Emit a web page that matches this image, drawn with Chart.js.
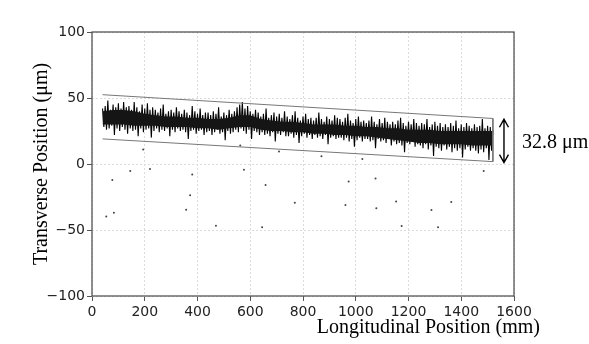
<!DOCTYPE html>
<html>
<head>
<meta charset="utf-8">
<script src="https://cdn.jsdelivr.net/npm/chart.js@4.4.1/dist/chart.umd.min.js"></script>
<style>
  html, body { margin: 0; padding: 0; background: #fff; }
  #wrap { width: 589px; height: 344px; }
</style>
</head>
<body>
<div id="wrap"><canvas id="chart"></canvas></div>
<script>
// Measured band: samples every 5 mm starting at 40 mm (crest / trough pairs)
const bandStart = 40;
const bandStep = 5;
const bandY = [
  42, 28, 44, 26, 48, 27, 41, 29, 45, 22, 43, 27, 46, 25, 42, 28, 47, 26, 43, 23,
  44, 27, 41, 25, 47, 26, 43, 21, 40, 27, 45, 24, 42, 26, 46, 27, 41, 20, 43, 25,
  41, 27, 39, 24, 42, 26, 45, 25, 38, 27, 40, 21, 41, 26, 39, 24, 43, 27, 40, 25,
  38, 26, 41, 24, 39, 19, 37, 25, 44, 26, 40, 23, 38, 25, 42, 26, 37, 22, 39, 24,
  39, 25, 37, 22, 40, 24, 38, 26, 43, 23, 36, 24, 39, 18, 37, 25, 41, 23, 38, 24,
  40, 26, 43, 24, 45, 27, 47, 25, 42, 23, 44, 26, 40, 19, 38, 25, 41, 24, 39, 22,
  36, 24, 38, 22, 42, 23, 35, 21, 37, 24, 39, 17, 36, 23, 38, 22, 35, 24, 40, 21,
  36, 21, 34, 23, 37, 20, 40, 22, 35, 16, 33, 21, 36, 23, 38, 20, 34, 22, 35, 19,
  33, 22, 35, 20, 39, 21, 34, 19, 32, 22, 36, 15, 34, 20, 33, 21, 37, 19, 35, 20,
  34, 20, 32, 18, 35, 20, 38, 17, 33, 19, 31, 13, 34, 18, 36, 20, 32, 17, 33, 19,
  31, 19, 33, 17, 36, 18, 32, 12, 30, 19, 34, 17, 31, 18, 35, 16, 32, 19, 30, 14,
  32, 17, 30, 15, 33, 16, 35, 14, 31, 9, 29, 16, 32, 15, 30, 17, 34, 13, 31, 15,
  29, 14, 31, 12, 30, 15, 34, 11, 28, 14, 30, 6, 32, 13, 29, 12, 31, 10, 28, 14,
  30, 11, 28, 13, 31, 9, 29, 12, 33, 10, 27, 12, 30, 5, 28, 11, 31, 13, 29, 10,
  27, 12, 30, 10, 28, 8, 29, 11, 34, 9, 27, 12, 29, 3, 28, 10, 26
];

// Dense inner core of the band, read every 40 mm from 40 mm
const coreX = [40, 80, 120, 160, 200, 240, 280, 320, 360, 400, 440, 480, 520, 560, 600, 640, 680, 720, 760,
  800, 840, 880, 920, 960, 1000, 1040, 1080, 1120, 1160, 1200, 1240, 1280, 1320, 1360, 1400, 1440, 1480, 1520];
const coreTop = [40, 41, 41, 40, 38, 37, 36, 36, 35, 35, 34, 34, 35, 37, 37, 34, 33, 32, 32,
  31, 30, 30, 30, 29, 29, 28, 28, 27, 27, 26, 26, 26, 25, 25, 25, 25, 25, 25];
const coreBottom = [30, 30, 30, 29, 29, 29, 28, 28, 28, 27, 27, 26, 27, 28, 28, 26, 25, 25, 24,
  24, 23, 23, 22, 22, 21, 21, 20, 19, 18, 17, 16, 16, 15, 15, 15, 14, 14, 14];

// Envelope lines (upper edge, right closing edge, lower edge)
const boundX = [40, 1520, 1520, 40];
const boundY = [52.5, 34.5, 1.8, 19];

// Isolated outlier samples
const outlierX = [77, 145, 54, 83, 220, 380, 372, 357, 470, 576, 658, 769, 645, 973, 961, 1075, 1078, 1153, 1174, 1287, 1362, 1312, 1485, 1025, 194, 709, 870, 562];
const outlierY = [-12.2, -5.3, -39.7, -37, -3.8, -7.9, -23.7, -34.6, -46.8, -4.3, -16, -29.3, -48, -13.2, -31, -11, -33.6, -28.5, -47, -34.8, -28.7, -48, -5.3, 3.8, 10.9, 9.4, 5.9, 14];

// Width annotation
const spanX = 1562;
const spanTop = 33.9;
const spanBottom = 1.1;
const spanLabel = '32.8 \u03bcm';

const xTitle = 'Longitudinal Position (mm)';
const yTitle = 'Transverse Position (\u03bcm)';

const bandPoints = bandY.map((y, i) => ({ x: bandStart + i * bandStep, y: y }));
const coreTopPoints = coreX.map((x, i) => ({ x: x, y: coreTop[i] }));
const coreBottomPoints = coreX.map((x, i) => ({ x: x, y: coreBottom[i] }));
const boundPoints = boundX.map((x, i) => ({ x: x, y: boundY[i] }));
const outlierPoints = outlierX.map((x, i) => ({ x: x, y: outlierY[i] }));

const serif = '"Liberation Serif", "Times New Roman", serif';

const decorations = {
  id: 'decorations',
  afterDraw(chart) {
    const { ctx, chartArea, scales } = chart;
    ctx.save();

    // frame around plot
    ctx.strokeStyle = '#555';
    ctx.lineWidth = 1.3;
    ctx.strokeRect(chartArea.left, chartArea.top, chartArea.right - chartArea.left, chartArea.bottom - chartArea.top);

    // double arrow
    const ax = scales.x.getPixelForValue(spanX);
    const ay1 = scales.y.getPixelForValue(spanTop);
    const ay2 = scales.y.getPixelForValue(spanBottom);
    ctx.strokeStyle = '#000';
    ctx.lineWidth = 1.4;
    ctx.beginPath();
    ctx.moveTo(ax, ay1);
    ctx.lineTo(ax, ay2);
    ctx.moveTo(ax - 4.5, ay1 + 8);
    ctx.lineTo(ax, ay1);
    ctx.lineTo(ax + 4.5, ay1 + 8);
    ctx.moveTo(ax - 4.5, ay2 - 8);
    ctx.lineTo(ax, ay2);
    ctx.lineTo(ax + 4.5, ay2 - 8);
    ctx.stroke();

    ctx.fillStyle = '#000';
    ctx.font = '20px ' + serif;
    ctx.textAlign = 'left';
    ctx.textBaseline = 'middle';
    ctx.fillText(spanLabel, ax + 18, (ay1 + ay2) / 2 + 2);

    // axis titles
    ctx.textAlign = 'right';
    ctx.fillText(xTitle, chartArea.right + 26, chartArea.bottom + 32);

    ctx.translate(42, (chartArea.top + chartArea.bottom) / 2);
    ctx.rotate(-Math.PI / 2);
    ctx.textAlign = 'center';
    ctx.fillText(yTitle, 0, 0);
    ctx.restore();
  }
};

const tickFont = { family: '"DejaVu Sans", sans-serif', size: 14 };
const plain = (v) => String(v).replace('-', '\u2212');

new Chart(document.getElementById('chart'), {
  type: 'scatter',
  data: {
    datasets: [
      {
        data: boundPoints,
        showLine: true,
        borderColor: '#777',
        borderWidth: 1,
        pointRadius: 0,
        fill: false
      },
      {
        data: coreTopPoints,
        showLine: true,
        borderColor: 'rgba(0,0,0,0)',
        borderWidth: 0,
        pointRadius: 0,
        fill: false
      },
      {
        data: coreBottomPoints,
        showLine: true,
        borderColor: 'rgba(0,0,0,0)',
        backgroundColor: '#151515',
        borderWidth: 0,
        pointRadius: 0,
        fill: '-1'
      },
      {
        data: bandPoints,
        showLine: true,
        borderColor: '#000',
        borderWidth: 1.1,
        pointRadius: 0,
        fill: false
      },
      {
        data: outlierPoints,
        showLine: false,
        pointRadius: 1,
        pointBorderWidth: 0,
        backgroundColor: '#444'
      }
    ]
  },
  options: {
    responsive: true,
    maintainAspectRatio: false,
    animation: false,
    layout: { padding: { top: 32, right: 75, bottom: 0, left: 0 } },
    plugins: {
      legend: { display: false },
      tooltip: { enabled: false }
    },
    scales: {
      x: {
        type: 'linear',
        min: 0,
        max: 1600,
        afterFit: (s) => { s.height = 48; },
        ticks: { stepSize: 200, font: tickFont, color: '#222', padding: 3, maxRotation: 0, callback: plain },
        grid: { color: '#dcdcdc', tickColor: '#555', tickLength: 5 },
        border: { display: false, dash: [2, 2] }
      },
      y: {
        min: -100,
        max: 100,
        afterFit: (s) => { s.width = 92; },
        ticks: { stepSize: 50, font: tickFont, color: '#222', padding: 2, callback: plain },
        grid: { color: '#dcdcdc', tickColor: '#555', tickLength: 5 },
        border: { display: false, dash: [2, 2] }
      }
    }
  },
  plugins: [decorations]
});
</script>
</body>
</html>
